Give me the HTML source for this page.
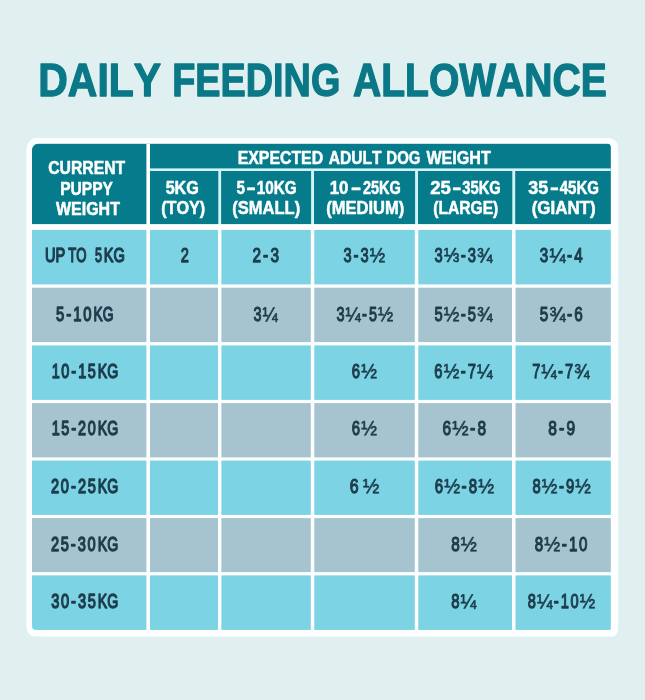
<!DOCTYPE html>
<html lang="en"><head><meta charset="utf-8"><title>Daily Feeding Allowance</title>
<style>html,body{margin:0;padding:0;background:#e0eff0;}body{width:645px;height:700px;overflow:hidden;}svg{display:block;}text{font-family:"Liberation Sans",Arial,Helvetica,sans-serif;font-kerning:none;stroke-linejoin:round;stroke-linecap:round;}</style>
</head><body>
<svg width="645" height="700" viewBox="0 0 645 700">
<rect x="0" y="0" width="645" height="700" fill="#e0eff0"/>
<path d="M36.9,138.0 H608.7 A9.5,9.5 0 0 1 618.2,147.5 V627.6 A5.5,9 0 0 1 612.7,636.6 H35.4 A9,9 0 0 1 26.4,627.6 V148.5 A10.5,10.5 0 0 1 36.9,138.0 Z" fill="#fdffff"/>
<defs><clipPath id="inner"><path d="M38.5,143.6 H606.9 A4,4 0 0 1 610.9,147.6 V628.4 A1.5,1.5 0 0 1 609.4,629.9 H36.0 A4,4 0 0 1 32.0,625.9 V150.1 A6.5,6.5 0 0 1 38.5,143.6 Z"/></clipPath></defs>
<g clip-path="url(#inner)">
<rect x="32.0" y="143.6" width="578.9" height="80.7" fill="#067b8b"/>
<rect x="32.0" y="224.3" width="578.9" height="405.6" fill="#fdffff"/>
<rect x="32.0" y="229.9" width="578.9" height="54.5" fill="#7bd3e4"/>
<rect x="32.0" y="287.7" width="578.9" height="54.4" fill="#a6c3d0"/>
<rect x="32.0" y="345.4" width="578.9" height="54.5" fill="#7bd3e4"/>
<rect x="32.0" y="403.1" width="578.9" height="54.3" fill="#a6c3d0"/>
<rect x="32.0" y="460.6" width="578.9" height="54.3" fill="#7bd3e4"/>
<rect x="32.0" y="518.1" width="578.9" height="54.0" fill="#a6c3d0"/>
<rect x="32.0" y="575.4" width="578.9" height="54.5" fill="#7bd3e4"/>
<rect x="150.0" y="168.4" width="460.9" height="2.6" fill="#d3f4f6"/>
<rect x="146.4" y="143.6" width="3.6" height="486.3" fill="#fdffff"/>
<rect x="218.3" y="171.0" width="2.8" height="53.3" fill="#d3f4f6"/>
<rect x="218.0" y="224.3" width="3.4" height="405.6" fill="#fdffff"/>
<rect x="311.1" y="171.0" width="2.9" height="53.3" fill="#d3f4f6"/>
<rect x="310.8" y="224.3" width="3.5" height="405.6" fill="#fdffff"/>
<rect x="415.1" y="171.0" width="2.9" height="53.3" fill="#d3f4f6"/>
<rect x="414.8" y="224.3" width="3.5" height="405.6" fill="#fdffff"/>
<rect x="512.3" y="171.0" width="2.9" height="53.3" fill="#d3f4f6"/>
<rect x="512.0" y="224.3" width="3.5" height="405.6" fill="#fdffff"/>
</g>
<text y="96.25" font-size="45.60" font-weight="bold" fill="#0a7887" stroke="#0a7887" stroke-width="1.30"><tspan x="38.31" textLength="122.80" lengthAdjust="spacingAndGlyphs">DAILY</tspan> <tspan x="172.22" textLength="168.07" lengthAdjust="spacingAndGlyphs">FEEDING</tspan> <tspan x="352.98" textLength="253.80" lengthAdjust="spacingAndGlyphs">ALLOWANCE</tspan></text>
<text y="174.20" font-size="17.70" font-weight="bold" fill="#fdffff" stroke="#fdffff" stroke-width="0.50"><tspan x="48.20" textLength="77.02" lengthAdjust="spacingAndGlyphs">CURRENT</tspan></text>
<text y="194.60" font-size="17.70" font-weight="bold" fill="#fdffff" stroke="#fdffff" stroke-width="0.50"><tspan x="60.21" textLength="52.79" lengthAdjust="spacingAndGlyphs">PUPPY</tspan></text>
<text y="215.00" font-size="17.70" font-weight="bold" fill="#fdffff" stroke="#fdffff" stroke-width="0.50"><tspan x="55.93" textLength="63.99" lengthAdjust="spacingAndGlyphs">WEIGHT</tspan></text>
<text y="163.70" font-size="17.70" font-weight="bold" fill="#fdffff" stroke="#fdffff" stroke-width="0.50"><tspan x="237.69" textLength="85.43" lengthAdjust="spacingAndGlyphs">EXPECTED</tspan> <tspan x="328.66" textLength="52.96" lengthAdjust="spacingAndGlyphs">ADULT</tspan> <tspan x="386.35" textLength="34.03" lengthAdjust="spacingAndGlyphs">DOG</tspan> <tspan x="426.43" textLength="64.39" lengthAdjust="spacingAndGlyphs">WEIGHT</tspan></text>
<text y="193.70" font-size="17.70" font-weight="bold" fill="#fdffff" stroke="#fdffff" stroke-width="0.50"><tspan x="165.65" textLength="33.20" lengthAdjust="spacingAndGlyphs">5KG</tspan></text>
<text y="214.30" font-size="17.70" font-weight="bold" fill="#fdffff" stroke="#fdffff" stroke-width="0.50"><tspan x="161.14" textLength="44.11" lengthAdjust="spacingAndGlyphs">(TOY)</tspan></text>
<text y="193.70" font-size="17.70" font-weight="bold" fill="#fdffff" stroke="#fdffff" stroke-width="0.50"><tspan x="236.58" textLength="8.49" lengthAdjust="spacingAndGlyphs">5</tspan><tspan x="246.47" textLength="9.18" lengthAdjust="spacingAndGlyphs">-</tspan><tspan x="256.79" textLength="39.91" lengthAdjust="spacingAndGlyphs">10KG</tspan></text>
<text y="214.30" font-size="17.70" font-weight="bold" fill="#fdffff" stroke="#fdffff" stroke-width="0.50"><tspan x="232.33" textLength="67.84" lengthAdjust="spacingAndGlyphs">(SMALL)</tspan></text>
<text y="193.70" font-size="17.70" font-weight="bold" fill="#fdffff" stroke="#fdffff" stroke-width="0.50"><tspan x="329.69" textLength="18.64" lengthAdjust="spacingAndGlyphs">10</tspan><tspan x="350.80" textLength="10.62" lengthAdjust="spacingAndGlyphs">-</tspan><tspan x="362.95" textLength="37.90" lengthAdjust="spacingAndGlyphs">25KG</tspan></text>
<text y="214.30" font-size="17.70" font-weight="bold" fill="#fdffff" stroke="#fdffff" stroke-width="0.50"><tspan x="326.23" textLength="78.05" lengthAdjust="spacingAndGlyphs">(MEDIUM)</tspan></text>
<text y="193.70" font-size="17.70" font-weight="bold" fill="#fdffff" stroke="#fdffff" stroke-width="0.50"><tspan x="430.21" textLength="20.66" lengthAdjust="spacingAndGlyphs">25</tspan><tspan x="452.19" textLength="9.05" lengthAdjust="spacingAndGlyphs">-</tspan><tspan x="462.31" textLength="38.45" lengthAdjust="spacingAndGlyphs">35KG</tspan></text>
<text y="214.30" font-size="17.70" font-weight="bold" fill="#fdffff" stroke="#fdffff" stroke-width="0.50"><tspan x="433.27" textLength="65.06" lengthAdjust="spacingAndGlyphs">(LARGE)</tspan></text>
<text y="193.70" font-size="17.70" font-weight="bold" fill="#fdffff" stroke="#fdffff" stroke-width="0.50"><tspan x="528.24" textLength="19.91" lengthAdjust="spacingAndGlyphs">35</tspan><tspan x="549.92" textLength="8.79" lengthAdjust="spacingAndGlyphs">-</tspan><tspan x="559.72" textLength="39.36" lengthAdjust="spacingAndGlyphs">45KG</tspan></text>
<text y="214.30" font-size="17.70" font-weight="bold" fill="#fdffff" stroke="#fdffff" stroke-width="0.50"><tspan x="531.71" textLength="63.88" lengthAdjust="spacingAndGlyphs">(GIANT)</tspan></text>
<text y="262.30" font-size="21.00" font-weight="normal" fill="#1d3d4c" stroke="#1d3d4c" stroke-width="1.45"><tspan x="44.90" textLength="20.24" lengthAdjust="spacingAndGlyphs">UP</tspan> <tspan x="68.33" textLength="18.28" lengthAdjust="spacingAndGlyphs">TO</tspan> <tspan x="94.92" textLength="6.98" lengthAdjust="spacingAndGlyphs">5</tspan><tspan x="103.72" textLength="21.14" lengthAdjust="spacingAndGlyphs">KG</tspan></text>
<text y="262.30" font-size="21.00" font-weight="normal" fill="#1d3d4c" stroke="#1d3d4c" stroke-width="1.25"><tspan x="180.79" textLength="8.12" lengthAdjust="spacingAndGlyphs">2</tspan></text>
<text y="262.30" font-size="21.00" font-weight="normal" fill="#1d3d4c" stroke="#1d3d4c" stroke-width="1.25"><tspan x="252.45" textLength="8.54" lengthAdjust="spacingAndGlyphs">2</tspan><tspan x="263.07" textLength="5.26" lengthAdjust="spacingAndGlyphs">-</tspan><tspan x="270.41" textLength="8.54" lengthAdjust="spacingAndGlyphs">3</tspan></text>
<text y="262.30" font-size="21.00" font-weight="normal" fill="#1d3d4c" stroke="#1d3d4c" stroke-width="1.25"><tspan x="343.47" textLength="8.12" lengthAdjust="spacingAndGlyphs">3</tspan><tspan x="353.58" textLength="5.00" lengthAdjust="spacingAndGlyphs">-</tspan><tspan x="360.56" textLength="8.12" lengthAdjust="spacingAndGlyphs">3</tspan><tspan x="369.74" textLength="15.40" lengthAdjust="spacingAndGlyphs" stroke-width="0.7">½</tspan></text>
<text y="262.30" font-size="21.00" font-weight="normal" fill="#1d3d4c" stroke="#1d3d4c" stroke-width="1.25"><tspan x="434.56" textLength="8.20" lengthAdjust="spacingAndGlyphs">3</tspan><tspan x="443.83" textLength="15.54" lengthAdjust="spacingAndGlyphs" stroke-width="0.7">⅓</tspan><tspan x="460.80" textLength="5.05" lengthAdjust="spacingAndGlyphs">-</tspan><tspan x="467.85" textLength="8.20" lengthAdjust="spacingAndGlyphs">3</tspan><tspan x="477.11" textLength="15.54" lengthAdjust="spacingAndGlyphs" stroke-width="0.7">¾</tspan></text>
<text y="262.30" font-size="21.00" font-weight="normal" fill="#1d3d4c" stroke="#1d3d4c" stroke-width="1.25"><tspan x="539.85" textLength="8.45" lengthAdjust="spacingAndGlyphs">3</tspan><tspan x="549.40" textLength="16.02" lengthAdjust="spacingAndGlyphs" stroke-width="0.7">¼</tspan><tspan x="566.90" textLength="5.21" lengthAdjust="spacingAndGlyphs">-</tspan><tspan x="574.17" textLength="8.45" lengthAdjust="spacingAndGlyphs">4</tspan></text>
<text y="320.80" font-size="21.00" font-weight="normal" fill="#1d3d4c" stroke="#1d3d4c" stroke-width="1.45"><tspan x="56.03" textLength="8.21" lengthAdjust="spacingAndGlyphs">5</tspan><tspan x="66.25" textLength="5.06" lengthAdjust="spacingAndGlyphs">-</tspan><tspan x="73.30" textLength="8.21" lengthAdjust="spacingAndGlyphs">1</tspan><tspan x="83.14" textLength="8.21" lengthAdjust="spacingAndGlyphs">0</tspan><tspan x="93.59" textLength="19.91" lengthAdjust="spacingAndGlyphs">KG</tspan></text>
<text y="320.80" font-size="21.00" font-weight="normal" fill="#1d3d4c" stroke="#1d3d4c" stroke-width="1.25"><tspan x="253.58" textLength="7.99" lengthAdjust="spacingAndGlyphs">3</tspan><tspan x="262.61" textLength="15.15" lengthAdjust="spacingAndGlyphs" stroke-width="0.7">¼</tspan></text>
<text y="320.80" font-size="21.00" font-weight="normal" fill="#1d3d4c" stroke="#1d3d4c" stroke-width="1.25"><tspan x="336.38" textLength="8.01" lengthAdjust="spacingAndGlyphs">3</tspan><tspan x="345.43" textLength="15.19" lengthAdjust="spacingAndGlyphs" stroke-width="0.7">¼</tspan><tspan x="362.02" textLength="4.93" lengthAdjust="spacingAndGlyphs">-</tspan><tspan x="368.90" textLength="8.01" lengthAdjust="spacingAndGlyphs">5</tspan><tspan x="377.95" textLength="15.19" lengthAdjust="spacingAndGlyphs" stroke-width="0.7">½</tspan></text>
<text y="320.80" font-size="21.00" font-weight="normal" fill="#1d3d4c" stroke="#1d3d4c" stroke-width="1.25"><tspan x="434.53" textLength="8.20" lengthAdjust="spacingAndGlyphs">5</tspan><tspan x="443.80" textLength="15.55" lengthAdjust="spacingAndGlyphs" stroke-width="0.7">½</tspan><tspan x="460.79" textLength="5.05" lengthAdjust="spacingAndGlyphs">-</tspan><tspan x="467.84" textLength="8.20" lengthAdjust="spacingAndGlyphs">5</tspan><tspan x="477.10" textLength="15.55" lengthAdjust="spacingAndGlyphs" stroke-width="0.7">¾</tspan></text>
<text y="320.80" font-size="21.00" font-weight="normal" fill="#1d3d4c" stroke="#1d3d4c" stroke-width="1.25"><tspan x="539.81" textLength="8.50" lengthAdjust="spacingAndGlyphs">5</tspan><tspan x="549.42" textLength="16.12" lengthAdjust="spacingAndGlyphs" stroke-width="0.7">¾</tspan><tspan x="567.03" textLength="5.24" lengthAdjust="spacingAndGlyphs">-</tspan><tspan x="574.34" textLength="8.50" lengthAdjust="spacingAndGlyphs">6</tspan></text>
<text y="377.90" font-size="21.00" font-weight="normal" fill="#1d3d4c" stroke="#1d3d4c" stroke-width="1.45"><tspan x="51.63" textLength="8.03" lengthAdjust="spacingAndGlyphs">1</tspan><tspan x="61.25" textLength="8.03" lengthAdjust="spacingAndGlyphs">0</tspan><tspan x="71.23" textLength="4.94" lengthAdjust="spacingAndGlyphs">-</tspan><tspan x="78.13" textLength="8.03" lengthAdjust="spacingAndGlyphs">1</tspan><tspan x="87.75" textLength="8.03" lengthAdjust="spacingAndGlyphs">5</tspan><tspan x="97.86" textLength="20.47" lengthAdjust="spacingAndGlyphs">KG</tspan></text>
<text y="377.90" font-size="21.00" font-weight="normal" fill="#1d3d4c" stroke="#1d3d4c" stroke-width="1.25"><tspan x="351.77" textLength="8.29" lengthAdjust="spacingAndGlyphs">6</tspan><tspan x="361.14" textLength="15.72" lengthAdjust="spacingAndGlyphs" stroke-width="0.7">½</tspan></text>
<text y="377.90" font-size="21.00" font-weight="normal" fill="#1d3d4c" stroke="#1d3d4c" stroke-width="1.25"><tspan x="434.37" textLength="8.22" lengthAdjust="spacingAndGlyphs">6</tspan><tspan x="443.67" textLength="15.59" lengthAdjust="spacingAndGlyphs" stroke-width="0.7">½</tspan><tspan x="460.70" textLength="5.06" lengthAdjust="spacingAndGlyphs">-</tspan><tspan x="467.77" textLength="8.22" lengthAdjust="spacingAndGlyphs">7</tspan><tspan x="477.06" textLength="15.59" lengthAdjust="spacingAndGlyphs" stroke-width="0.7">¼</tspan></text>
<text y="377.90" font-size="21.00" font-weight="normal" fill="#1d3d4c" stroke="#1d3d4c" stroke-width="1.25"><tspan x="532.18" textLength="8.08" lengthAdjust="spacingAndGlyphs">7</tspan><tspan x="541.31" textLength="15.32" lengthAdjust="spacingAndGlyphs" stroke-width="0.7">¼</tspan><tspan x="558.05" textLength="4.98" lengthAdjust="spacingAndGlyphs">-</tspan><tspan x="565.00" textLength="8.08" lengthAdjust="spacingAndGlyphs">7</tspan><tspan x="574.13" textLength="15.32" lengthAdjust="spacingAndGlyphs" stroke-width="0.7">¾</tspan></text>
<text y="435.20" font-size="21.00" font-weight="normal" fill="#1d3d4c" stroke="#1d3d4c" stroke-width="1.45"><tspan x="51.63" textLength="8.02" lengthAdjust="spacingAndGlyphs">1</tspan><tspan x="61.24" textLength="8.02" lengthAdjust="spacingAndGlyphs">5</tspan><tspan x="71.21" textLength="4.94" lengthAdjust="spacingAndGlyphs">-</tspan><tspan x="78.11" textLength="8.02" lengthAdjust="spacingAndGlyphs">2</tspan><tspan x="87.72" textLength="8.02" lengthAdjust="spacingAndGlyphs">0</tspan><tspan x="97.86" textLength="20.47" lengthAdjust="spacingAndGlyphs">KG</tspan></text>
<text y="435.20" font-size="21.00" font-weight="normal" fill="#1d3d4c" stroke="#1d3d4c" stroke-width="1.25"><tspan x="351.77" textLength="8.29" lengthAdjust="spacingAndGlyphs">6</tspan><tspan x="361.14" textLength="15.72" lengthAdjust="spacingAndGlyphs" stroke-width="0.7">½</tspan></text>
<text y="435.20" font-size="21.00" font-weight="normal" fill="#1d3d4c" stroke="#1d3d4c" stroke-width="1.25"><tspan x="442.44" textLength="8.62" lengthAdjust="spacingAndGlyphs">6</tspan><tspan x="452.18" textLength="16.34" lengthAdjust="spacingAndGlyphs" stroke-width="0.7">½</tspan><tspan x="470.02" textLength="5.31" lengthAdjust="spacingAndGlyphs">-</tspan><tspan x="477.43" textLength="8.62" lengthAdjust="spacingAndGlyphs">8</tspan></text>
<text y="435.20" font-size="21.00" font-weight="normal" fill="#1d3d4c" stroke="#1d3d4c" stroke-width="1.25"><tspan x="548.25" textLength="8.65" lengthAdjust="spacingAndGlyphs">8</tspan><tspan x="559.02" textLength="5.33" lengthAdjust="spacingAndGlyphs">-</tspan><tspan x="566.46" textLength="8.65" lengthAdjust="spacingAndGlyphs">9</tspan></text>
<text y="492.90" font-size="21.00" font-weight="normal" fill="#1d3d4c" stroke="#1d3d4c" stroke-width="1.45"><tspan x="50.99" textLength="8.14" lengthAdjust="spacingAndGlyphs">2</tspan><tspan x="60.75" textLength="8.14" lengthAdjust="spacingAndGlyphs">0</tspan><tspan x="70.88" textLength="5.02" lengthAdjust="spacingAndGlyphs">-</tspan><tspan x="77.88" textLength="8.14" lengthAdjust="spacingAndGlyphs">2</tspan><tspan x="87.65" textLength="8.14" lengthAdjust="spacingAndGlyphs">5</tspan><tspan x="97.86" textLength="20.47" lengthAdjust="spacingAndGlyphs">KG</tspan></text>
<text y="492.90" font-size="21.00" font-weight="normal" fill="#1d3d4c" stroke="#1d3d4c" stroke-width="1.25"><tspan x="349.82" textLength="8.86" lengthAdjust="spacingAndGlyphs">6</tspan> <tspan x="363.02" textLength="16.26" lengthAdjust="spacingAndGlyphs" stroke-width="0.7">½</tspan></text>
<text y="492.90" font-size="21.00" font-weight="normal" fill="#1d3d4c" stroke="#1d3d4c" stroke-width="1.25"><tspan x="434.66" textLength="8.38" lengthAdjust="spacingAndGlyphs">6</tspan><tspan x="444.13" textLength="15.89" lengthAdjust="spacingAndGlyphs" stroke-width="0.7">½</tspan><tspan x="461.49" textLength="5.16" lengthAdjust="spacingAndGlyphs">-</tspan><tspan x="468.70" textLength="8.38" lengthAdjust="spacingAndGlyphs">8</tspan><tspan x="478.17" textLength="15.89" lengthAdjust="spacingAndGlyphs" stroke-width="0.7">½</tspan></text>
<text y="492.90" font-size="21.00" font-weight="normal" fill="#1d3d4c" stroke="#1d3d4c" stroke-width="1.25"><tspan x="532.58" textLength="8.22" lengthAdjust="spacingAndGlyphs">8</tspan><tspan x="541.87" textLength="15.59" lengthAdjust="spacingAndGlyphs" stroke-width="0.7">½</tspan><tspan x="558.90" textLength="5.06" lengthAdjust="spacingAndGlyphs">-</tspan><tspan x="565.97" textLength="8.22" lengthAdjust="spacingAndGlyphs">9</tspan><tspan x="575.26" textLength="15.59" lengthAdjust="spacingAndGlyphs" stroke-width="0.7">½</tspan></text>
<text y="550.80" font-size="21.00" font-weight="normal" fill="#1d3d4c" stroke="#1d3d4c" stroke-width="1.45"><tspan x="50.99" textLength="8.14" lengthAdjust="spacingAndGlyphs">2</tspan><tspan x="60.74" textLength="8.14" lengthAdjust="spacingAndGlyphs">5</tspan><tspan x="70.86" textLength="5.01" lengthAdjust="spacingAndGlyphs">-</tspan><tspan x="77.86" textLength="8.14" lengthAdjust="spacingAndGlyphs">3</tspan><tspan x="87.61" textLength="8.14" lengthAdjust="spacingAndGlyphs">0</tspan><tspan x="97.86" textLength="20.47" lengthAdjust="spacingAndGlyphs">KG</tspan></text>
<text y="550.80" font-size="21.00" font-weight="normal" fill="#1d3d4c" stroke="#1d3d4c" stroke-width="1.25"><tspan x="451.26" textLength="8.50" lengthAdjust="spacingAndGlyphs">8</tspan><tspan x="460.86" textLength="16.11" lengthAdjust="spacingAndGlyphs" stroke-width="0.7">½</tspan></text>
<text y="550.80" font-size="21.00" font-weight="normal" fill="#1d3d4c" stroke="#1d3d4c" stroke-width="1.25"><tspan x="534.87" textLength="8.40" lengthAdjust="spacingAndGlyphs">8</tspan><tspan x="544.36" textLength="15.93" lengthAdjust="spacingAndGlyphs" stroke-width="0.7">½</tspan><tspan x="561.77" textLength="5.17" lengthAdjust="spacingAndGlyphs">-</tspan><tspan x="568.99" textLength="8.40" lengthAdjust="spacingAndGlyphs">1</tspan><tspan x="579.06" textLength="8.40" lengthAdjust="spacingAndGlyphs">0</tspan></text>
<text y="608.40" font-size="21.00" font-weight="normal" fill="#1d3d4c" stroke="#1d3d4c" stroke-width="1.45"><tspan x="51.17" textLength="8.11" lengthAdjust="spacingAndGlyphs">3</tspan><tspan x="60.89" textLength="8.11" lengthAdjust="spacingAndGlyphs">0</tspan><tspan x="70.98" textLength="5.00" lengthAdjust="spacingAndGlyphs">-</tspan><tspan x="77.95" textLength="8.11" lengthAdjust="spacingAndGlyphs">3</tspan><tspan x="87.68" textLength="8.11" lengthAdjust="spacingAndGlyphs">5</tspan><tspan x="97.86" textLength="20.47" lengthAdjust="spacingAndGlyphs">KG</tspan></text>
<text y="608.40" font-size="21.00" font-weight="normal" fill="#1d3d4c" stroke="#1d3d4c" stroke-width="1.25"><tspan x="451.28" textLength="8.25" lengthAdjust="spacingAndGlyphs">8</tspan><tspan x="460.60" textLength="15.64" lengthAdjust="spacingAndGlyphs" stroke-width="0.7">¼</tspan></text>
<text y="608.40" font-size="21.00" font-weight="normal" fill="#1d3d4c" stroke="#1d3d4c" stroke-width="1.25"><tspan x="527.79" textLength="8.13" lengthAdjust="spacingAndGlyphs">8</tspan><tspan x="536.98" textLength="15.41" lengthAdjust="spacingAndGlyphs" stroke-width="0.7">¼</tspan><tspan x="553.81" textLength="5.01" lengthAdjust="spacingAndGlyphs">-</tspan><tspan x="560.80" textLength="8.13" lengthAdjust="spacingAndGlyphs">1</tspan><tspan x="570.55" textLength="8.13" lengthAdjust="spacingAndGlyphs">0</tspan><tspan x="579.73" textLength="15.41" lengthAdjust="spacingAndGlyphs" stroke-width="0.7">½</tspan></text>
</svg>
</body></html>
